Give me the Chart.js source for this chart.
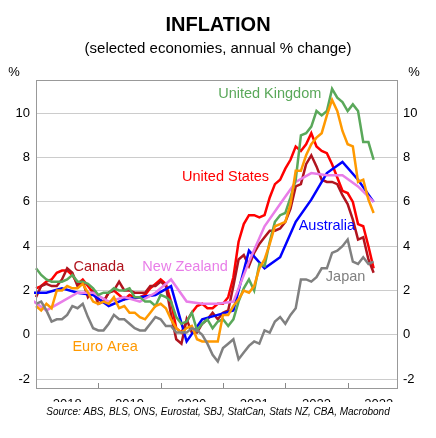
<!DOCTYPE html>
<html>
<head>
<script src="https://cdn.jsdelivr.net/npm/chart.js"></script>
<style>body{margin:0;background:#fff}</style>
</head>
<body>
<div style="width:436px;height:438px"><canvas id="c"></canvas></div>
<script>
// months counted from Jan 2018 = 0
const yearLabels = ["2018", "2019", "2020", "2021", "2022", "2023"];
const yTicks = [-2, 0, 2, 4, 6, 8, 10];

const uk = [3.0,2.7,2.5,2.4,2.4,2.4,2.5,2.7,2.4,2.4,2.3,2.1, 1.8,1.9,1.9,2.1,2.0,2.0,2.1,1.7,1.7,1.5,1.5,1.3,
  1.8,1.7,1.5,0.8,0.5,0.6,1.0,0.2,0.5,0.7,0.3,0.6, 0.7,0.4,0.7,1.5,2.1,2.5,2.0,3.2,3.1,4.2,5.1,5.4,
  5.5,6.2,7.0,9.0,9.1,9.4,10.1,9.9,10.1,11.1,10.7,10.5, 10.1,10.4,10.1,8.7,8.7,7.9];
const us = [2.1,2.2,2.4,2.5,2.8,2.9,2.9,2.7,2.3,2.5,2.2,1.9, 1.6,1.5,1.9,2.0,1.8,1.6,1.8,1.7,1.7,1.8,2.1,2.3,
  2.5,2.3,1.5,0.3,0.1,0.6,1.0,1.3,1.4,1.2,1.2,1.4, 1.4,1.7,2.6,4.2,5.0,5.4,5.4,5.3,5.4,6.2,6.8,7.0,
  7.5,7.9,8.5,8.3,8.6,9.1,8.5,8.3,8.2,7.7,7.1,6.5, 6.4,6.0,5.0,4.9,4.0,3.0];
const canada = [1.7,2.2,2.3,2.2,2.2,2.5,3.0,2.8,2.2,2.4,1.7,2.0, 1.4,1.5,1.9,2.0,2.4,2.0,2.0,1.9,1.9,1.9,2.2,2.2,
  2.4,2.2,0.9,-0.2,-0.4,0.7,0.1,0.1,0.5,0.7,1.0,0.7, 1.0,1.1,2.2,3.4,3.6,3.1,3.7,4.1,4.4,4.7,4.7,4.8,
  5.1,5.7,6.7,6.8,7.7,8.1,7.6,7.0,6.9,6.9,6.8,6.3, 5.9,5.2,4.3,4.4,3.4,2.8];
const euro = [1.3,1.1,1.4,1.2,2.0,2.0,2.2,2.1,2.1,2.3,1.9,1.5, 1.4,1.5,1.4,1.7,1.2,1.3,1.0,1.0,0.8,0.7,1.0,1.3,
  1.4,1.2,0.7,0.3,0.1,0.3,0.4,-0.2,-0.3,-0.3,-0.3,-0.3, 0.9,0.9,1.3,1.6,2.0,1.9,2.2,3.0,3.4,4.1,4.9,5.0,
  5.1,5.9,7.4,7.4,8.1,8.6,8.9,9.1,9.9,10.6,10.1,9.2, 8.6,8.5,6.9,7.0,6.1,5.5];
const japan = [1.4,1.5,1.1,0.6,0.7,0.7,0.9,1.3,1.2,1.4,0.8,0.3, 0.2,0.2,0.5,0.9,0.7,0.7,0.5,0.3,0.2,0.2,0.5,0.8,
  0.7,0.4,0.4,0.1,0.1,0.1,0.3,0.2,0.0,-0.4,-0.9,-1.2, -0.6,-0.4,-0.2,-1.1,-0.8,-0.5,-0.3,-0.4,0.2,0.1,0.6,0.8,
  0.5,0.9,1.2,2.5,2.5,2.4,2.6,3.0,3.0,3.7,3.8,4.0, 4.3,3.3,3.2,3.5,3.2,3.3];
// quarterly, Dec 2017 .. Jun 2023
const qMonths = [-1,2,5,8,11,14,17,20,23,26,29,32,35,38,41,44,47,50,53,56,59,62,65];
const australia = [1.9,1.9,2.1,1.9,1.8,1.3,1.6,1.7,1.8,2.2,-0.3,0.7,0.9,1.1,3.8,3.0,3.5,5.1,6.1,7.3,7.8,7.0,6.0];
const newZealand = [1.6,1.1,1.5,1.9,1.9,1.5,1.7,1.5,1.9,2.5,1.5,1.4,1.4,1.5,3.3,4.9,5.9,6.9,7.3,7.2,7.2,6.7,6.0];

const monthly = arr => arr.map((v, i) => ({x: i, y: v}));
const quarterly = arr => arr.map((v, i) => ({x: qMonths[i], y: v}));

const labels = [
  {text: "United Kingdom", x: 45, y: 10.85, color: "#5aa85a"},
  {text: "United States", x: 36.5, y: 7.1, color: "#ff0000"},
  {text: "Canada", x: 12.1, y: 3.07, color: "#b0141e"},
  {text: "New Zealand", x: 28.7, y: 3.07, color: "#e87de8"},
  {text: "Australia", x: 56, y: 4.9, color: "#0000ff"},
  {text: "Japan", x: 59.6, y: 2.6, color: "#808080"},
  {text: "Euro Area", x: 13.3, y: -0.55, color: "#ff9900"}
];

function ds(label, data, color) {
  return {label, data, borderColor: color, borderWidth: 2.5, pointRadius: 0, tension: 0, clip: 2};
}

const extras = {
  id: "extras",
  afterDraw(chart) {
    const ctx = chart.ctx, a = chart.chartArea, xs = chart.scales.x, ys = chart.scales.y;
    ctx.save();
    ctx.fillStyle = "#000";
    ctx.textAlign = "center";
    ctx.textBaseline = "middle";
    ctx.font = "bold 20px 'Liberation Sans', Arial";
    ctx.fillText("INFLATION", 218, 25);
    ctx.font = "15px 'Liberation Sans', Arial";
    ctx.fillText("(selected economies, annual % change)", 218, 49);
    ctx.font = "13px 'Liberation Sans', Arial";
    ctx.fillText("%", 14, 72);
    ctx.fillText("%", 414, 72);
    ctx.font = "italic 10px 'Liberation Sans', Arial";
    ctx.fillText("Source: ABS, BLS, ONS, Eurostat, SBJ, StatCan, Stats NZ, CBA, Macrobond", 218, 412);
    // year tick marks
    ctx.strokeStyle = "#888";
    ctx.lineWidth = 1;
    for (let m = 12; m < 70; m += 12) {
      const px = Math.round(xs.getPixelForValue(m)) + 0.5;
      ctx.beginPath(); ctx.moveTo(px, a.bottom); ctx.lineTo(px, a.bottom - 5); ctx.stroke();
    }
    ctx.font = "14.5px 'Liberation Sans', Arial";
    labels.forEach(l => {
      ctx.fillStyle = l.color;
      ctx.fillText(l.text, xs.getPixelForValue(l.x), ys.getPixelForValue(l.y));
    });
    ctx.strokeStyle = "#999";
    ctx.strokeRect(a.left + 0.5, a.top + 0.5, a.right - a.left, a.bottom - a.top);
    ctx.restore();
  }
};

const yAxis = (pos) => ({
  type: "linear", position: pos, min: -2.4, max: 11.5,
  afterBuildTicks: s => { s.ticks = yTicks.map(v => ({value: v})); },
  afterFit: s => { s.width = pos === "left" ? 36 : 39; },
  grid: {display: pos === "left", color: "#ccc", drawTicks: false, drawOnChartArea: true},
  border: {display: false},
  ticks: {color: "#000", font: {size: 13, family: "'Liberation Sans', Arial"}, padding: 6}
});

new Chart(document.getElementById("c"), {
  type: "line",
  data: {
    datasets: [
      ds("Japan", monthly(japan), "#808080"),
      ds("Euro Area", monthly(euro), "#ff9900"),
      ds("United Kingdom", monthly(uk), "#5aa85a"),
      ds("New Zealand", quarterly(newZealand), "#e87de8"),
      ds("Australia", quarterly(australia), "#0000ff"),
      ds("Canada", monthly(canada), "#b0141e"),
      ds("United States", monthly(us), "#ff0000")
    ]
  },
  options: {
    responsive: true, maintainAspectRatio: false, animation: false,
    layout: {padding: {top: 80, bottom: 36, left: 0, right: 0}},
    plugins: {legend: {display: false}, tooltip: {enabled: false}},
    scales: {
      x: {
        type: "linear", min: 0, max: 69.5,
        afterBuildTicks: s => { s.ticks = yearLabels.map((y, i) => ({value: 6 + 12 * i})); },
        afterFit: s => { s.height = 14; },
        grid: {display: false},
        border: {display: false},
        ticks: {color: "#000", maxRotation: 0, autoSkip: false, font: {size: 13, family: "'Liberation Sans', Arial"}, padding: 1,
          callback: v => yearLabels[(v - 6) / 12]}
      },
      y: yAxis("left"),
      y2: yAxis("right")
    }
  },
  plugins: [extras]
});
</script>
</body>
</html>
